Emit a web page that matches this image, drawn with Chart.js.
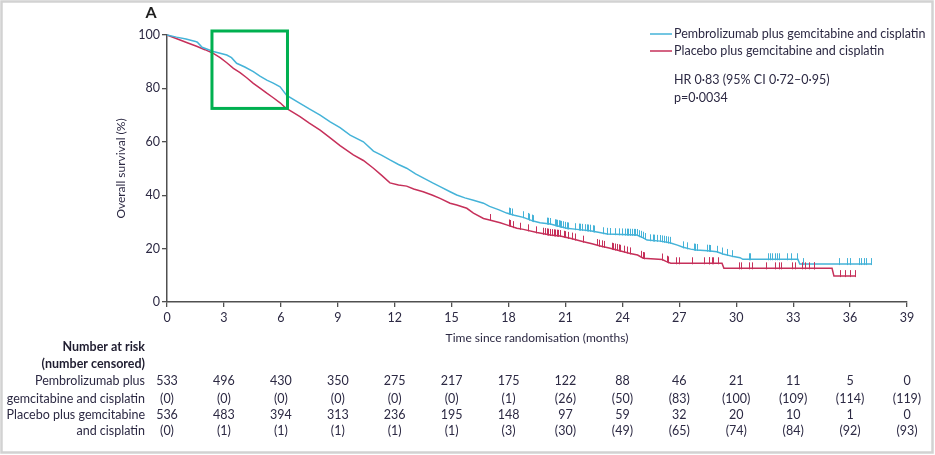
<!DOCTYPE html>
<html><head><meta charset="utf-8">
<script src="https://cdn.jsdelivr.net/npm/chart.js@4.4.1/dist/chart.umd.min.js"></script>
<style>html,body{margin:0;padding:0;background:#fff;}canvas{display:block;}</style>
</head><body>
<canvas id="c" width="935" height="455"></canvas>
<script>
// ---- Data ----
const xTicks = [0,3,6,9,12,15,18,21,24,27,30,33,36,39];
const seriesNames = ["Pembrolizumab plus gemcitabine and cisplatin","Placebo plus gemcitabine and cisplatin"];

const pembroTime = [0,0.5,1.0,1.5,1.6,1.85,2.44,3.15,3.4,3.67,4.1,4.55,4.9,5.26,5.6,5.96,6.31,7.01,7.5,8.07,8.6,9.12,9.65,10.35,10.88,11.3,11.75,12.2,12.63,13.1,13.5,14.0,14.39,14.92,15.27,15.7,16.15,16.68,17.0,17.5,17.9,18.3,18.78,19.3,19.66,20.2,20.6,21.07,21.6,22.3,22.8,23.2,24.0,24.76,25.1,25.3,26.0,26.5,26.9,27.2,27.6,27.9,28.5,28.98,29.3,29.86,30.2,30.35,33.25,33.35,37.15];
const pembroSurv = [100,99.2,98.5,97.6,97.3,95.4,93.8,92.5,91.5,89.4,88.0,86.3,84.6,83.1,82.0,80.6,77.4,74.4,72.3,70.0,67.5,65.3,62.5,60.0,56.5,55.0,53.2,51.5,50.1,48.0,46.5,44.6,43.2,41.3,40.1,39.0,38.1,37.0,35.8,34.5,33.3,32.5,31.7,30.3,29.7,29.2,28.5,27.6,27.2,26.7,26.0,25.5,25.3,25.1,24.0,23.2,22.8,22.2,21.3,20.5,19.8,19.5,19.2,18.8,18.0,17.0,16.6,16.0,16.0,14.2,14.2];

const placeboTime = [0,0.69,1.1,1.56,2.0,2.44,2.8,3.15,3.5,3.85,4.2,4.55,4.9,5.26,5.6,5.96,6.23,6.6,7.01,7.5,8.07,8.6,9.12,9.82,10.35,10.88,11.3,11.75,12.2,12.63,13.0,13.5,14.0,14.39,14.92,15.27,15.8,16.15,16.68,17.0,17.56,17.9,18.44,18.78,19.5,20.2,20.72,21.3,21.95,22.4,22.83,23.3,23.71,24.41,24.8,25.1,26.1,26.3,26.55,29.25,29.35,35.05,35.15,36.27];
const placeboSurv = [100,98.1,97.0,95.8,94.5,93.1,91.5,89.6,87.5,85.9,84.0,81.9,80.1,78.2,76.5,74.6,72.8,71.2,69.4,67.0,64.4,61.5,58.6,55.1,53.0,50.1,47.5,44.6,43.8,43.4,42.3,41.3,40.0,38.8,37.0,36.3,35.1,33.3,31.3,30.7,29.7,28.9,27.6,27.2,26.0,25.1,24.7,23.8,22.6,21.8,21.0,20.2,19.5,18.2,17.6,16.4,15.9,15.2,14.5,14.5,12.6,12.6,9.7,9.7];

const pembroCensor = [18.0,18.08,18.17,18.75,19.0,19.1,19.23,19.31,20.02,20.1,20.19,20.46,20.51,20.58,20.65,20.72,20.79,20.86,20.98,21.07,21.16,21.51,21.69,21.77,21.86,22.04,22.13,22.21,22.3,22.44,22.51,23.0,23.18,23.36,23.62,23.8,23.97,24.15,24.23,24.32,24.41,24.5,24.59,24.67,24.76,24.9,24.97,25.08,25.2,25.46,25.6,25.68,25.82,25.96,26.08,26.2,26.31,26.43,26.52,27.22,27.43,27.75,27.84,27.93,28.45,28.54,28.63,28.98,29.24,29.51,29.77,30.65,30.74,31.7,31.79,31.88,32.06,32.14,32.23,32.67,32.88,33.2,33.51,35.4,35.83,36.01,36.45,36.57,36.71,36.85,37.1];
const placeboCensor = [17.0,18.0,18.08,18.26,18.58,19.0,19.45,19.84,19.93,20.02,20.1,20.19,20.28,20.37,20.46,20.54,20.63,20.72,20.9,20.98,21.16,21.33,21.51,21.95,22.65,22.79,22.92,23.04,23.44,23.53,23.62,23.71,23.8,23.88,24.06,24.23,24.41,24.97,25.08,25.15,26.08,26.34,26.43,26.84,26.96,27.66,28.28,28.54,28.59,28.72,28.8,29.02,30.12,30.25,30.65,30.82,31.58,32.06,32.23,32.35,32.93,33.11,33.46,33.64,33.81,34.08,34.11,35.48,35.75,36.01,36.27];

const pembroAtRisk = [533,496,430,350,275,217,175,122,88,46,21,11,5,0];
const pembroCensored = [0,0,0,0,0,0,1,26,50,83,100,109,114,119];
const placeboAtRisk = [536,483,394,313,236,195,148,97,59,32,20,10,1,0];
const placeboCensored = [0,1,1,1,1,1,3,30,49,65,74,84,92,93];

const statsLines = ["HR 0\u00b783 (95% CI 0\u00b772\u20130\u00b795)","p=0\u00b70034"];
const highlightBox = {x0:2.37, x1:6.35, y0:72.5, y1:101.5}; // in months / %

// ---- Styles ----
const BLUE = '#45b3d8', RED = '#c6305a', TXT = '#2c2943', AX = '#505050';
const FONT = 'Lato, "Open Sans", sans-serif';

function pts(t, s){ return t.map((v,i)=>({x:v,y:s[i]})); }
function interp(t, s, x){
  for(let i=1;i<t.length;i++){ if(x<=t[i]){ const f=(x-t[i-1])/((t[i]-t[i-1])||1); return s[i-1]+f*(s[i]-s[i-1]); } }
  return s[s.length-1];
}

const censorPlugin = {
  id:'censor',
  afterDatasetsDraw(chart){
    const {ctx, scales:{x,y}} = chart;
    const sets = [[pembroTime,pembroSurv,pembroCensor,BLUE],[placeboTime,placeboSurv,placeboCensor,RED]];
    ctx.save(); ctx.lineWidth=1;
    for(const [t,s,c,col] of sets){
      ctx.strokeStyle=col; ctx.beginPath();
      for(const ct of c){
        const px=Math.round(x.getPixelForValue(ct))+0.5, py=y.getPixelForValue(interp(t,s,ct));
        ctx.moveTo(px,py+1); ctx.lineTo(px,py-6);
      }
      ctx.stroke();
    }
    ctx.restore();
  }
};

const decorPlugin = {
  id:'decor',
  afterDraw(chart){
    const {ctx, scales:{x,y}, chartArea} = chart;
    ctx.save();
    // frame
    ctx.strokeStyle='#d2d2d2'; ctx.lineWidth=2.5;
    ctx.strokeRect(1.5,1.5,931,451);
    // panel letter
    ctx.fillStyle='#1e1e1e'; ctx.font='bold 16px '+FONT; ctx.textAlign='center'; ctx.textBaseline='middle';
    ctx.fillText('A',151,13);
    // y title
    ctx.fillStyle=TXT; ctx.font='12px '+FONT;
    ctx.save(); ctx.translate(121,(chartArea.top+chartArea.bottom)/2); ctx.rotate(-Math.PI/2);
    ctx.fillText('Overall survival (%)',0,0); ctx.restore();
    // x title
    ctx.fillText('Time since randomisation (months)',(chartArea.left+chartArea.right)/2,338);
    // legend
    ctx.textAlign='left'; ctx.font='12.5px '+FONT;
    const leg=[[BLUE,seriesNames[0],34],[RED,seriesNames[1],51]];
    for(const [col,name,ly] of leg){
      ctx.strokeStyle=col; ctx.lineWidth=1.5; ctx.beginPath(); ctx.moveTo(650,ly); ctx.lineTo(672,ly); ctx.stroke();
      ctx.fillStyle=TXT; ctx.fillText(name,674,ly);
    }
    ctx.fillText(statsLines[0],674,80);
    ctx.fillText(statsLines[1],674,98);
    // highlight box
    ctx.strokeStyle='#00b050'; ctx.lineWidth=3;
    const bx0=x.getPixelForValue(highlightBox.x0), bx1=x.getPixelForValue(highlightBox.x1);
    const by0=y.getPixelForValue(highlightBox.y1), by1=y.getPixelForValue(highlightBox.y0);
    ctx.strokeRect(bx0,by0,bx1-bx0,by1-by0);
    // number at risk table
    ctx.textAlign='right'; ctx.fillStyle='#1f1d30'; ctx.font='bold 12.5px '+FONT;
    ctx.fillText('Number at risk',145,347);
    ctx.fillText('(number censored)',145,364);
    ctx.font='12.5px '+FONT; ctx.fillStyle=TXT;
    const rowY=[381,399,415,431];
    const rowLab=['Pembrolizumab plus','gemcitabine and cisplatin','Placebo plus gemcitabine','and cisplatin'];
    rowLab.forEach((l,i)=>ctx.fillText(l,145,rowY[i]));
    ctx.textAlign='center';
    xTicks.forEach((t,i)=>{
      const px=x.getPixelForValue(t);
      ctx.fillText(String(pembroAtRisk[i]),px,rowY[0]);
      ctx.fillText('('+pembroCensored[i]+')',px,rowY[1]);
      ctx.fillText(String(placeboAtRisk[i]),px,rowY[2]);
      ctx.fillText('('+placeboCensored[i]+')',px,rowY[3]);
    });
    ctx.restore();
  }
};

new Chart(document.getElementById('c'),{
  type:'line',
  data:{datasets:[
    {label:seriesNames[0],data:pts(pembroTime,pembroSurv),borderColor:BLUE,borderWidth:1.5,pointRadius:0,tension:0,fill:false,clip:false},
    {label:seriesNames[1],data:pts(placeboTime,placeboSurv),borderColor:RED,borderWidth:1.5,pointRadius:0,tension:0,fill:false,clip:false}
  ]},
  options:{
    responsive:false, animation:false, devicePixelRatio:1,
    layout:{padding:{top:35,right:28,left:0,bottom:0}},
    plugins:{legend:{display:false},tooltip:{enabled:false}},
    scales:{
      x:{type:'linear',min:0,max:39,
        afterBuildTicks:s=>{s.ticks=xTicks.map(v=>({value:v}));},
        afterFit:s=>{s.height=153;},
        ticks:{color:TXT,font:{family:FONT,size:12.5},padding:3,maxRotation:0,autoSkip:false},
        grid:{drawOnChartArea:false,tickLength:5,color:AX,lineWidth:1.3},
        border:{color:AX,width:1.5}},
      y:{min:0,max:100,
        ticks:{stepSize:20,color:TXT,font:{family:FONT,size:12.5},padding:2},
        afterFit:s=>{s.width=167;},
        grid:{drawOnChartArea:false,tickLength:5,color:AX,lineWidth:1.3},
        border:{color:AX,width:1.5}}
    }
  },
  plugins:[censorPlugin,decorPlugin]
});
</script>
</body></html>
